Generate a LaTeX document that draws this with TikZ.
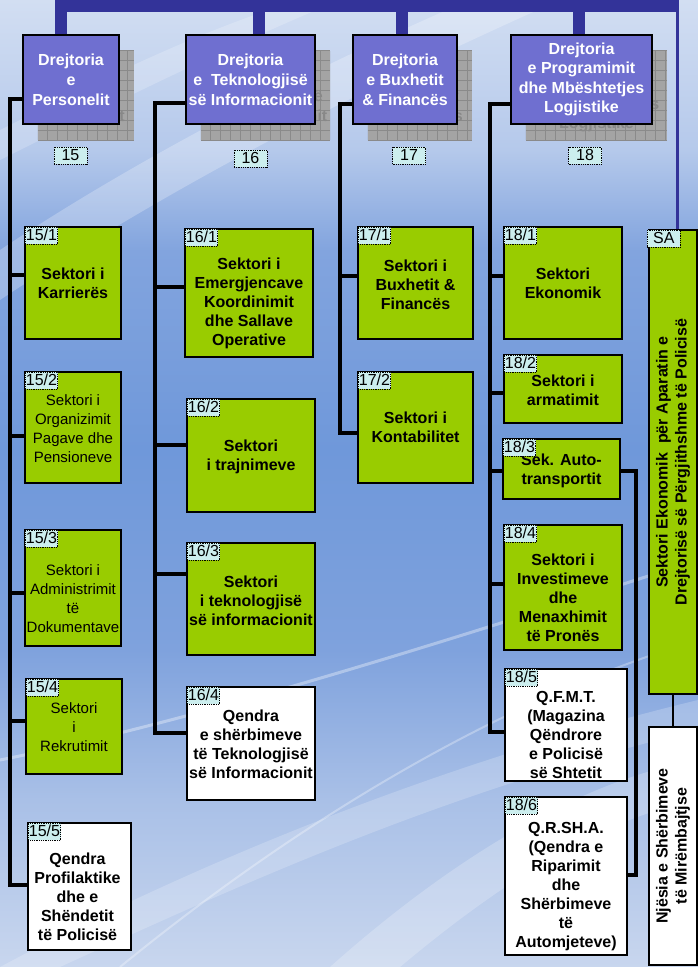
\documentclass[tikz,border=0pt]{standalone}
\usepackage{fontspec}
\setmainfont{Liberation Sans}
\definecolor{navy}{HTML}{333399}
\definecolor{dpurp}{HTML}{6F6FD0}
\definecolor{grn}{HTML}{99CC00}
\definecolor{tagc}{HTML}{CCEEEE}
\definecolor{shfill}{HTML}{A4A4A4}
\definecolor{shline}{HTML}{8A8A8A}
\definecolor{shtext}{HTML}{888888}
\definecolor{bgA}{HTML}{C8D6EE}
\definecolor{bgB}{HTML}{A9C0E7}
\definecolor{bgC}{HTML}{7FA2DD}
\definecolor{bgD}{HTML}{6F98DA}
\definecolor{bgE}{HTML}{82A4DE}
\definecolor{bgF}{HTML}{B5C9EB}
\definecolor{bgG}{HTML}{D2DEF2}
\pgfdeclareverticalshading{bgsh}{100bp}{color(0bp)=(bgA); color(25bp)=(bgA); color(33.65bp)=(bgB); color(41.4bp)=(bgC); color(51.75bp)=(bgD); color(62.05bp)=(bgE); color(67.25bp)=(bgF); color(75bp)=(bgG); color(100bp)=(bgG)}
\newcommand\mkbox[6]{\node[#1, minimum width=#5pt, minimum height=#6pt] (#2) at (#3,#4) {};}
\newcommand\mktag[2]{\node[tagbox, anchor=north west] (#1t) at ([xshift=1pt,yshift=-1pt]#1.north west) {#2};}
\newcommand\sgrid[1]{\begin{scope}\clip (#1.south west) rectangle (#1.north east);
  \foreach \k in {0,10,...,150} {\draw[shline, line width=0.7pt] ([xshift=\k pt]#1.north west) -- ([xshift=\k pt]#1.south west);
  \draw[shline, line width=0.7pt] ([yshift=-\k pt]#1.north west) -- ([yshift=-\k pt]#1.north east);}\end{scope}}
\newcommand\branch[3]{\path ([yshift=#2]#1.west) coordinate (#1j); \draw[conn] (#1j) -- (#1j -| #3);}
\begin{document}
\begin{tikzpicture}[x=1pt,y=-1pt,
  conn/.style={draw=black, line width=4pt},
  dropline/.style={draw=navy, line width=12pt},
  dbox/.style={draw=black, line width=2.2pt, fill=dpurp, inner sep=0pt},
  sbox/.style={fill=shfill, draw=none, inner sep=0pt},
  gbox/.style={draw=black, line width=2.2pt, fill=grn, inner sep=0pt},
  wbox/.style={draw=black, line width=2.2pt, fill=white, inner sep=0pt},
  tagbox/.style={draw=black, densely dotted, line width=0.8pt, fill=tagc, inner xsep=0.6pt, inner ysep=0pt, minimum height=17pt, font=\fontsize{16}{16}\selectfont, text height=12pt, text depth=2pt},
  numtag/.style={tagbox, minimum width=33pt},
  dtext/.style={text=white, font=\bfseries\fontsize{16}{20}\selectfont, align=center, inner sep=0pt},
  stext/.style={text=shtext, font=\bfseries\fontsize{16}{20}\selectfont, align=center, inner sep=0pt},
  btext/.style={font=\bfseries\fontsize{16}{19}\selectfont, align=center, inner sep=0pt},
  ntext/.style={font=\fontsize{15}{19}\selectfont, align=center, inner sep=0pt},
]
\useasboundingbox (0,0) rectangle (698,967);
\fill[shading=bgsh] (0,0) rectangle (698,967);
% light streaks of the background
\fill[white, opacity=0.25] (0,250) .. controls (150,150) and (330,60) .. (470,0) -- (560,0) .. controls (380,80) and (180,180) .. (0,300) -- cycle;
\fill[white, opacity=0.2] (0,130) .. controls (100,80) and (200,30) .. (300,0) -- (340,0) .. controls (220,50) and (100,110) .. (0,160) -- cycle;
\fill[white, opacity=0.2] (0,967) .. controls (200,860) and (450,760) .. (698,700) -- (698,730) .. controls (450,790) and (250,880) .. (60,967) -- cycle;
\fill[white, opacity=0.22] (330,967) .. controls (450,860) and (580,780) .. (698,760) -- (698,800) .. controls (590,820) and (480,900) .. (400,967) -- cycle;
\draw[white, opacity=0.35, line width=3pt] (0,760) .. controls (200,720) and (450,640) .. (698,560);
\draw[white, opacity=0.3, line width=2pt] (120,967) .. controls (300,820) and (500,700) .. (698,640);

% top bar
\coordinate (barL) at (55,6);
\coordinate (barR) at (679,6);
\coordinate (thinTop) at (677.5,6);

% shadows of the directorates
\node[sbox, minimum width=96pt, minimum height=89pt] (S15) at (86,95.5) {};
\node[sbox, minimum width=129pt, minimum height=89pt] (S16) at (265.5,95.5) {};
\node[sbox, minimum width=104pt, minimum height=89pt] (S17) at (420,95.5) {};
\node[sbox, minimum width=141pt, minimum height=89pt] (S18) at (596.5,95.5) {};
\sgrid{S15}\sgrid{S16}\sgrid{S17}\sgrid{S18}
\node[stext] (sT15) at (S15.center) {Drejtoria\\e\\Personelit};
\node[stext] (sT16) at (S16.center) {Drejtoria\\e~ Teknologjisë\\së Informacionit};
\node[stext] (sT17) at (S17.center) {Drejtoria\\e Buxhetit\\\& Financës};
\node[stext, font=\bfseries\fontsize{16}{19.5}\selectfont] (sT18) at (S18.center) {Drejtoria\\e Programimit\\dhe Mbështetjes\\Logjistike};

% directorates
\mkbox{dbox}{D15}{71}{79.5}{96}{89}
\mkbox{dbox}{D16}{250.5}{79.5}{129}{89}
\mkbox{dbox}{D17}{405}{79.5}{104}{89}
\mkbox{dbox}{D18}{581.5}{79.5}{141}{89}
\node[dtext] (dT15) at (D15.center) {Drejtoria\\e\\Personelit};
\node[dtext] (dT16) at (D16.center) {Drejtoria\\e~ Teknologjisë\\së Informacionit};
\node[dtext] (dT17) at (D17.center) {Drejtoria\\e Buxhetit\\\& Financës};
\node[dtext, font=\bfseries\fontsize{16}{19.5}\selectfont] (dT18) at (D18.center) {Drejtoria\\e Programimit\\dhe Mbështetjes\\Logjistike};

\draw[navy, line width=12pt] (barL) -- (barR);
\draw[dropline] ([xshift=-10pt]D15.north) -- ([xshift=-10pt]D15.north |- barL);
\draw[dropline] ([xshift=8.5pt]D16.north) -- ([xshift=8.5pt]D16.north |- barL);
\draw[dropline] ([xshift=-3pt]D17.north) -- ([xshift=-3pt]D17.north |- barL);
\draw[dropline] ([xshift=-2.5pt]D18.north) -- ([xshift=-2.5pt]D18.north |- barL);

\node[numtag] (N15) at (70.5,155.5) {15};
\node[numtag] (N16) at (250.5,158.5) {16};
\node[numtag] (N17) at (409,155.5) {17};
\node[numtag] (N18) at (585,155.5) {18};

% sector boxes
\mkbox{gbox}{B151}{73}{283}{96}{112}
\mkbox{gbox}{B152}{73}{427.5}{96}{111}
\mkbox{gbox}{B153}{73}{588}{96}{116}
\mkbox{gbox}{B154}{74}{726.5}{96}{95}
\mkbox{wbox}{B155}{79.5}{886.5}{103}{127}
\mkbox{gbox}{B161}{249}{293}{128}{128}
\mkbox{gbox}{B162}{251}{455.5}{128}{113}
\mkbox{gbox}{B163}{251}{599}{128}{112}
\mkbox{wbox}{B164}{251}{743.5}{128}{113}
\mkbox{gbox}{B171}{415.5}{283}{115}{112}
\mkbox{gbox}{B172}{415.5}{427.5}{115}{111}
\mkbox{gbox}{B181}{563}{283}{118}{112}
\mkbox{gbox}{B182}{563}{389}{118}{68}
\mkbox{gbox}{B183}{561.5}{469}{117}{60}
\mkbox{gbox}{B184}{563}{587.5}{118}{125}
\mkbox{wbox}{B185}{566}{725}{122}{112}
\mkbox{wbox}{B186}{566}{876}{122}{158}
\mkbox{gbox}{SA}{673}{462}{48}{464}
\mkbox{wbox}{NJ}{673}{846}{48}{238}

\node[btext] (x151) at (B151.center) {Sektori i\\Karrierës};
\node[ntext] (x152) at ([yshift=-1pt]B152.center) {Sektori i\\Organizimit\\Pagave dhe\\Pensioneve};
\node[ntext] (x153) at ([yshift=-11pt]B153.center) {Sektori i\\Administrimit\\të\\Dokumentave};
\node[ntext] (x154) at ([yshift=-1pt]B154.center) {Sektori\\i\\Rekrutimit};
\node[btext] (x155) at ([xshift=-2pt,yshift=-10pt]B155.center) {Qendra\\Profilaktike\\dhe e\\Shëndetit\\të Policisë};
\node[btext] (x161) at ([yshift=-10.5pt]B161.center) {Sektori i\\Emergjencave\\Koordinimit\\dhe Sallave\\Operative};
\node[btext] (x162) at ([yshift=-1pt]B162.center) {Sektori\\i trajnimeve};
\node[btext] (x163) at ([yshift=-1.5pt]B163.center) {Sektori\\i teknologjisë\\së informacionit};
\node[btext] (x164) at ([yshift=-1pt]B164.center) {Qendra\\e shërbimeve\\të Teknologjisë\\së Informacionit};
\node[btext] (x171) at ([yshift=-1.5pt]B171.center) {Sektori i\\Buxhetit \&\\Financës};
\node[btext] (x172) at (B172.center) {Sektori i\\Kontabilitet};
\node[btext] (x181) at (B181.center) {Sektori\\Ekonomik};
\node[btext] (x182) at ([yshift=-1pt]B182.center) {Sektori i\\armatimit};
\node[btext] (x183) at ([yshift=-2pt]B183.center) {Sek. Auto-\\transportit};
\node[btext] (x184) at ([yshift=-10pt]B184.center) {Sektori i\\Investimeve\\dhe\\Menaxhimit\\të Pronës};
\node[btext] (x185) at ([yshift=-10pt]B185.center) {Q.F.M.T.\\(Magazina\\Qëndrore\\e Policisë\\së Shtetit};
\node[btext] (x186) at ([yshift=-11pt]B186.center) {Q.R.SH.A.\\(Qendra e\\Riparimit\\dhe\\Shërbimeve\\të\\Automjeteve)};
\node[btext, rotate=90] (xSA) at (SA.center) {Sektori Ekonomik~ për Aparatin e\\Drejtorisë së Përgjithshme të Policisë};
\node[btext, rotate=90] (xNJ) at (NJ.center) {Njësia e Shërbimeve\\të Mirëmbajtjse};

\mktag{B151}{15/1}\mktag{B152}{15/2}\mktag{B153}{15/3}\mktag{B154}{15/4}\mktag{B155}{15/5}
\mktag{B161}{16/1}\mktag{B162}{16/2}\mktag{B163}{16/3}\mktag{B164}{16/4}
\mktag{B171}{17/1}\mktag{B172}{17/2}
\mktag{B181}{18/1}\mktag{B182}{18/2}\mktag{B183}{18/3}\mktag{B184}{18/4}\mktag{B185}{18/5}\mktag{B186}{18/6}
\node[tagbox, anchor=north west, minimum width=33pt] (SAt) at ([xshift=-1pt,yshift=-1pt]SA.north west) {SA};

% trunks
\coordinate (T15) at (10,99);
\coordinate (T16) at (155,103);
\coordinate (T17) at (340,104);
\coordinate (T18) at (490,104);
\draw[conn] ([yshift=-19.5pt]D15.west) -- (T15) |- ([yshift=1.5pt]B155.west);
\draw[conn] ([yshift=-23.5pt]D16.west) -- (T16) |- ([yshift=10.5pt]B164.west);
\draw[conn] ([yshift=-24.5pt]D17.west) -- (T17) |- ([yshift=-5.5pt]B172.west);
\draw[conn] ([yshift=-24.5pt]D18.west) -- (T18) |- ([yshift=-7pt]B185.west);
\branch{B151}{8pt}{T15}
\branch{B152}{-8.5pt}{T15}
\branch{B153}{-5pt}{T15}
\branch{B154}{5.5pt}{T15}
\branch{B161}{6pt}{T16}
\branch{B162}{10.5pt}{T16}
\branch{B163}{25pt}{T16}
\branch{B171}{7pt}{T17}
\branch{B181}{7pt}{T18}
\branch{B182}{-4pt}{T18}
\branch{B183}{-2pt}{T18}
\branch{B184}{3.5pt}{T18}
\draw[conn] ([yshift=-1.5pt]B183.east) -- ++(15,0) |- ([yshift=1pt]B186.east);

% links of the SA column
\draw[navy, line width=3.5pt] (thinTop) -- (thinTop |- SA.north);
\draw[black, line width=2pt] (SA.south) -- (NJ.north);
\end{tikzpicture}
\end{document}
